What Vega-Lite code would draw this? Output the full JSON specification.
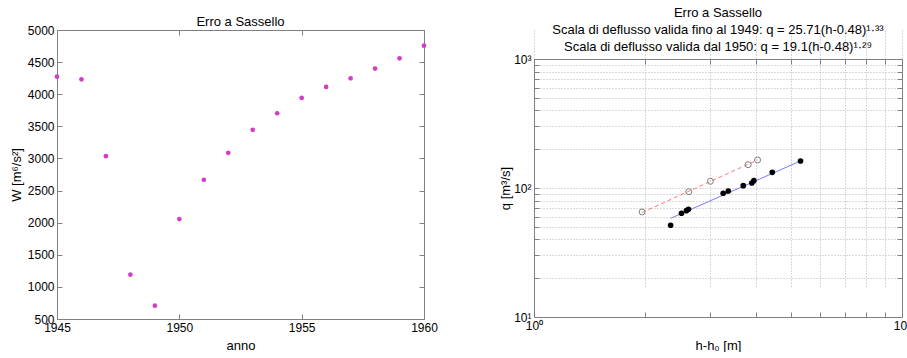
{
  "$schema": "https://vega.github.io/schema/vega-lite/v6.json",
  "padding": {"left": 10, "top": 7, "right": 0, "bottom": 0},
  "config": {
    "view": {"stroke": null},
    "font": "Liberation Sans",
    "axis": {
      "labelFont": "Liberation Sans", "labelFontSize": 12, "labelColor": "#000",
      "titleFont": "Liberation Sans", "titleFontSize": 13, "titleFontWeight": "normal", "titleColor": "#000",
      "domainColor": "#808080", "tickColor": "#808080", "tickSize": -5, "labelPadding": 8,
      "labelFlush": false, "labelOverlap": false, "grid": false
    },
    "title": {"font": "Liberation Sans", "fontSize": 13, "fontWeight": "normal", "color": "#000"}
  },
  "datasets": {
    "W": [
      {"anno": 1945, "W": 4274}, {"anno": 1946, "W": 4232}, {"anno": 1947, "W": 3035},
      {"anno": 1948, "W": 1190}, {"anno": 1949, "W": 708}, {"anno": 1950, "W": 2056},
      {"anno": 1951, "W": 2668}, {"anno": 1952, "W": 3087}, {"anno": 1953, "W": 3445},
      {"anno": 1954, "W": 3704}, {"anno": 1955, "W": 3943}, {"anno": 1956, "W": 4114},
      {"anno": 1957, "W": 4248}, {"anno": 1958, "W": 4399}, {"anno": 1959, "W": 4559},
      {"anno": 1960, "W": 4756}
    ],
    "obs": [
      {"serie": "fino al 1949", "h": 1.967, "q": 65.2},
      {"serie": "fino al 1949", "h": 2.634, "q": 93.6},
      {"serie": "fino al 1949", "h": 3.016, "q": 112.7},
      {"serie": "fino al 1949", "h": 3.82, "q": 151.5},
      {"serie": "fino al 1949", "h": 4.05, "q": 164.8},
      {"serie": "dal 1950", "h": 2.351, "q": 51.4},
      {"serie": "dal 1950", "h": 2.516, "q": 63.7},
      {"serie": "dal 1950", "h": 2.596, "q": 66.7},
      {"serie": "dal 1950", "h": 2.629, "q": 68.4},
      {"serie": "dal 1950", "h": 3.267, "q": 91.0},
      {"serie": "dal 1950", "h": 3.372, "q": 94.8},
      {"serie": "dal 1950", "h": 3.704, "q": 104.2},
      {"serie": "dal 1950", "h": 3.908, "q": 109.3},
      {"serie": "dal 1950", "h": 3.958, "q": 114.0},
      {"serie": "dal 1950", "h": 4.441, "q": 132.3},
      {"serie": "dal 1950", "h": 5.30, "q": 161.9}
    ],
    "fit": [
      {"serie": "fino al 1949", "h": 1.967, "q": 64.5},
      {"serie": "fino al 1949", "h": 4.05, "q": 165.0},
      {"serie": "dal 1950", "h": 2.351, "q": 58.2},
      {"serie": "dal 1950", "h": 5.30, "q": 162.0}
    ]
  },
  "spacing": 61,
  "hconcat": [
    {
      "width": 367, "height": 289,
      "title": {"text": "Erro a Sassello", "offset": -2, "dy": 3},
      "data": {"name": "W"},
      "resolve": {"axis": {"x": "independent", "y": "independent"}},
      "layer": [
        {
          "mark": {"type": "point", "filled": true, "size": 22, "color": "#d23cc8", "opacity": 1},
          "encoding": {
            "x": {"field": "anno", "type": "quantitative",
              "scale": {"domain": [1945, 1960], "nice": false, "zero": false},
              "axis": {"title": "anno", "orient": "bottom", "values": [1945, 1950, 1955, 1960], "format": "d", "titlePadding": 6}},
            "y": {"field": "W", "type": "quantitative",
              "scale": {"domain": [500, 5000], "nice": false, "zero": false},
              "axis": {"title": "W [m⁶/s²]", "orient": "left", "values": [500, 1000, 1500, 2000, 2500, 3000, 3500, 4000, 4500, 5000], "format": "d"}}
          }
        },
        {
          "mark": {"type": "point", "opacity": 0},
          "encoding": {
            "x": {"field": "anno", "type": "quantitative",
              "axis": {"orient": "top", "labels": false, "title": null, "values": [1945, 1950, 1955, 1960]}},
            "y": {"field": "W", "type": "quantitative",
              "axis": {"orient": "right", "labels": false, "title": null, "values": [500, 1000, 1500, 2000, 2500, 3000, 3500, 4000, 4500, 5000]}}
          }
        }
      ]
    },
    {
      "width": 368, "height": 287,
      "title": {"text": ["Erro a Sassello", "Scala di deflusso valida fino al 1949: q = 25.71(h-0.48)¹·³³", "Scala di deflusso valida dal 1950: q = 19.1(h-0.48)¹·²⁹"], "offset": -24, "lineHeight": 17},
      "resolve": {"axis": {"x": "independent", "y": "independent"}},
      "layer": [
        {
          "data": {"name": "fit"},
          "transform": [{"filter": "datum.serie == 'fino al 1949'"}],
          "mark": {"type": "line", "color": "#ff7878", "strokeDash": [4, 3], "strokeWidth": 1},
          "encoding": {
            "x": {"field": "h", "type": "quantitative",
              "scale": {"type": "log", "domain": [1, 10], "nice": false},
              "axis": {"title": "h-h₀ [m]", "orient": "bottom", "values": [1, 2, 3, 4, 5, 6, 7, 8, 9, 10],
                "labelExpr": "datum.value == 1 ? '10⁰' : datum.value == 10 ? '10¹' : ''",
                "grid": true, "gridDash": [1, 2], "gridColor": "#b4b4b4", "titlePadding": 8}},
            "y": {"field": "q", "type": "quantitative",
              "scale": {"type": "log", "domain": [10, 1000], "nice": false, "range": [287, 29]},
              "axis": {"title": "q [m³/s]", "orient": "left", "values": [10, 20, 30, 40, 50, 60, 70, 80, 90, 100, 200, 300, 400, 500, 600, 700, 800, 900, 1000],
                "labelExpr": "datum.value == 10 ? '10¹' : datum.value == 100 ? '10²' : datum.value == 1000 ? '10³' : ''",
                "grid": true, "gridDash": [1, 2], "gridColor": "#b4b4b4", "titlePadding": 1}}
          }
        },
        {
          "data": {"name": "fit"},
          "transform": [{"filter": "datum.serie == 'dal 1950'"}],
          "mark": {"type": "line", "color": "#7878ff", "strokeWidth": 1},
          "encoding": {
            "x": {"field": "h", "type": "quantitative", "axis": null},
            "y": {"field": "q", "type": "quantitative", "axis": null}
          }
        },
        {
          "data": {"name": "obs"},
          "transform": [{"filter": "datum.serie == 'fino al 1949'"}],
          "mark": {"type": "point", "filled": false, "size": 36, "color": "#808080", "strokeWidth": 1, "opacity": 1},
          "encoding": {
            "x": {"field": "h", "type": "quantitative", "axis": null},
            "y": {"field": "q", "type": "quantitative", "axis": null}
          }
        },
        {
          "data": {"name": "obs"},
          "transform": [{"filter": "datum.serie == 'dal 1950'"}],
          "mark": {"type": "point", "filled": true, "size": 32, "color": "#000000", "opacity": 1},
          "encoding": {
            "x": {"field": "h", "type": "quantitative", "axis": null},
            "y": {"field": "q", "type": "quantitative", "axis": null}
          }
        },
        {
          "data": {"name": "obs"},
          "mark": {"type": "point", "opacity": 0},
          "encoding": {
            "x": {"field": "h", "type": "quantitative",
              "axis": {"orient": "top", "offset": -29, "labels": false, "title": null, "values": [1, 2, 3, 4, 5, 6, 7, 8, 9, 10]}},
            "y": {"field": "q", "type": "quantitative",
              "axis": {"orient": "right", "labels": false, "title": null, "values": [10, 20, 30, 40, 50, 60, 70, 80, 90, 100, 200, 300, 400, 500, 600, 700, 800, 900, 1000]}}
          }
        }
      ]
    }
  ]
}
